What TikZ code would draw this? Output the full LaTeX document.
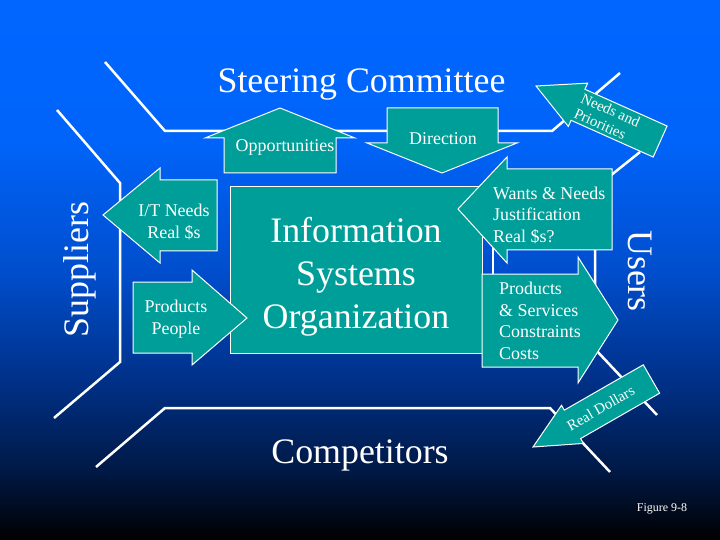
\documentclass[tikz,border=0pt]{standalone}
\usepackage{fontspec}
\setmainfont{Liberation Serif}
\usepackage{xcolor}
\definecolor{slidetop}{RGB}{0,102,255}
\definecolor{slideA}{RGB}{0,100,250}
\definecolor{slideB}{RGB}{0,78,205}
\definecolor{slideC}{RGB}{0,50,140}
\definecolor{slideD}{RGB}{0,25,70}
\definecolor{isteal}{RGB}{0,158,152}
\usepackage{tikz}
\pgfdeclareverticalshading{slidebg}{100bp}{color(0bp)=(black); color(25bp)=(black); color(31.5bp)=(slideD); color(40.3bp)=(slideC); color(50bp)=(slideB); color(62bp)=(slideA); color(75bp)=(slidetop); color(100bp)=(slidetop)}

\begin{document}
\begin{tikzpicture}[x=1bp, y=-1bp,
    frame/.style={draw=white, line width=2.5bp},
    blockarrow/.style={fill=isteal, draw=white, line width=1bp},
    bigtext/.style={text=white, inner sep=0pt, font=\fontsize{36}{43}\selectfont},
    smalltext/.style={text=white, inner sep=0pt, font=\fontsize{18}{21.6}\selectfont},
    tilttext/.style={text=white, inner sep=0pt, font=\fontsize{15}{17}\selectfont}]
    % Background
    \shade[shading=slidebg] (0,0) rectangle (720,540);
    \useasboundingbox (0,0) rectangle (720,540);

    % Frame lines
    \draw[frame] (57,110) -- (120,183) -- (120,362) -- (54,418);
    \draw[frame] (105,62) -- (165,131) -- (552,131) -- (620,73);
    \draw[frame] (96,467) -- (165,408) -- (550,408) -- (610,472);
    \draw[frame] (640,152) -- (595,188) -- (595,349) -- (657,415);
    \draw[frame] (493,245) -- (493,280);

    % Steering Committee arrows
    \filldraw[blockarrow] (280,108) -- (355,138) -- (336,138) -- (336,173) -- (224,173) -- (224,138) -- (205,138) -- cycle;
    \filldraw[blockarrow] (387,108) -- (498,108) -- (498,143) -- (517,143) -- (442,173) -- (367,143) -- (387,143) -- cycle;

    % Information Systems Organization
    \filldraw[blockarrow] (230,187) rectangle (482,353);

    % Suppliers arrows
    \filldraw[blockarrow] (103,215) -- (160,168) -- (160,180) -- (217,180) -- (217,251) -- (160,251) -- (160,263) -- cycle;
    \filldraw[blockarrow] (133,282) -- (192,282) -- (192,270) -- (247,318) -- (192,365) -- (192,353) -- (133,353) -- cycle;

    % Users arrows
    \filldraw[blockarrow] (458,209) -- (507,157) -- (507,169) -- (612,169) -- (612,250) -- (507,250) -- (507,263) -- cycle;
    \filldraw[blockarrow] (482,274) -- (578,274) -- (578,257) -- (618,320) -- (578,383) -- (578,367) -- (482,367) -- cycle;

    % Tilted arrows
    \begin{scope}[shift={(536,86)}, rotate=-24.1]
        \filldraw[blockarrow] (0,0) -- (46,23.7) -- (46,17) -- (136,17) -- (136,-17) -- (46,-17) -- (46,-23.7) -- cycle;
    \end{scope}
    \begin{scope}[shift={(533,447)}, rotate=29.85]
        \filldraw[blockarrow] (0,0) -- (45.5,22) -- (45.5,16.4) -- (136.6,16.4) -- (136.6,-16.4) -- (45.5,-16.4) -- (45.5,-22) -- cycle;
    \end{scope}
    \node[tilttext, align=left, rotate=-24.1] (needs) at (607.2,117.9) {Needs and\\Priorities};
    \node[tilttext, rotate=29.85] (dollars) at (600.7,408.2) {Real Dollars};

    % Labels
    \node[bigtext, anchor=base] (steering) at (361.5,93) {Steering Committee};
    \node[bigtext, anchor=base] (competitors) at (360,463) {Competitors};
    \node[bigtext, anchor=base, rotate=90] (suppliers) at (88,269.5) {Suppliers};
    \node[bigtext, anchor=base, rotate=-90] (users) at (628,271) {Users};
    \node[bigtext, align=center] (iso) at (356,277) {Information\\Systems\\Organization};

    \node[smalltext, anchor=base] (opps) at (285,152) {Opportunities};
    \node[smalltext, anchor=base] (direction) at (443,145) {Direction};
    \node[smalltext, align=center] (itneeds) at (174,222) {I/T Needs\\Real \$s};
    \node[smalltext, align=center] (prodpeople) at (176,319) {Products\\People};
    \node[smalltext, align=left, anchor=west] (wants) at (493,215) {Wants \& Needs\\Justification\\Real \$s?};
    \node[smalltext, align=left, anchor=west] (prodserv) at (499,321) {Products\\\& Services\\Constraints\\Costs};

    \node[text=white, inner sep=0pt, anchor=base, font=\fontsize{12}{14}\selectfont] (figno) at (662,511) {Figure 9-8};
\end{tikzpicture}
\end{document}
